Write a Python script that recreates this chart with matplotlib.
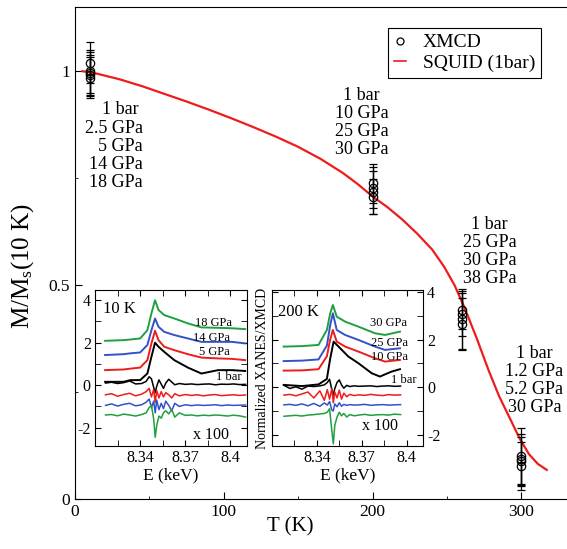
import matplotlib
matplotlib.use('Agg')
import matplotlib.pyplot as plt
from matplotlib.ticker import MultipleLocator
from matplotlib.lines import Line2D

plt.rcParams['font.family'] = 'Liberation Serif'
plt.rcParams['mathtext.fontset'] = 'custom'
plt.rcParams['mathtext.rm'] = 'Liberation Serif'
plt.rcParams['mathtext.it'] = 'Liberation Serif:italic'

# --- main panel: XMCD points and SQUID curve ---
xmcd_t   = [10, 10, 10, 10, 10, 200, 200, 200, 200, 260, 260, 260, 260, 300, 300, 300, 300]
xmcd_m   = [1.02, 1.0, 0.995, 0.99, 0.985, 0.738, 0.728, 0.717, 0.707,
            0.442, 0.432, 0.421, 0.409, 0.100, 0.094, 0.088, 0.077]
xmcd_err = [0.048, 0.05, 0.05, 0.047, 0.047, 0.046, 0.047, 0.05, 0.041,
            0.044, 0.05, 0.07, 0.061, 0.067, 0.059, 0.058, 0.056]

squid_t = [5, 15, 30, 45, 60, 75, 90, 105, 120, 135, 150, 165, 180, 190, 200,
           210, 220, 230, 240, 248, 255, 262, 270, 278, 285, 292, 299, 305, 311, 317]
squid_m = [1.0, 0.994, 0.981, 0.965, 0.947, 0.929, 0.91, 0.89, 0.869, 0.847,
           0.823, 0.795, 0.762, 0.736, 0.707, 0.682, 0.653, 0.62, 0.583, 0.543,
           0.5, 0.445, 0.375, 0.30, 0.24, 0.19, 0.14, 0.105, 0.082, 0.068]

pressure_labels = [
    (45.6, 0.825, '1 bar \n2.5 GPa\n5 GPa\n14 GPa\n18 GPa', 'right'),
    (192.6, 0.88, '1 bar\n10 GPa\n25 GPa\n30 GPa', 'center'),
    (278.5, 0.578, '1 bar\n25 GPa\n30 GPa\n38 GPa', 'center'),
    (308.7, 0.278, '1 bar\n1.2 GPa\n5.2 GPa\n30 GPa', 'center'),
]

# --- inset 1: 10 K ---
e1 = [8.3167, 8.329, 8.3335, 8.340, 8.3448, 8.3475, 8.3499, 8.3522, 8.356,
      8.3627, 8.3717, 8.3807, 8.3919, 8.4009, 8.4098]
xanes1_18 = [2.09, 2.12, 2.15, 2.2, 2.59, 3.38, 4.0, 3.54, 3.30, 3.14, 2.91, 2.72, 2.70, 2.68, 2.64]
xanes1_14 = [1.42, 1.46, 1.50, 1.54, 1.89, 2.59, 3.14, 2.75, 2.51, 2.36, 2.2, 2.04, 2.04, 2.04, 1.97]
xanes1_5  = [0.71, 0.74, 0.78, 0.83, 1.18, 1.97, 2.56, 2.12, 1.81, 1.65, 1.46, 1.30, 1.26, 1.24, 1.18]
xanes1_1b = [0.16, 0.16, 0.24, 0.24, 0.55, 1.34, 2.0, 1.81, 1.57, 1.18, 0.83, 0.55, 0.71, 0.71, 0.67]

xe1 = [8.317, 8.321, 8.325, 8.329, 8.333, 8.337, 8.341, 8.344, 8.346, 8.3475,
       8.349, 8.350, 8.351, 8.3525, 8.354, 8.3555, 8.357, 8.359, 8.361, 8.363,
       8.366, 8.370, 8.374, 8.378, 8.382, 8.386, 8.390, 8.394, 8.398, 8.402,
       8.406, 8.410]
xmcd1_1b = [0.10, 0.14, 0.08, 0.12, 0.20, 0.06, 0.08, 0.18, 0.40, 0.30, -0.10,
            -0.35, -0.05, 0.25, 0.05, -0.15, 0.10, 0.28, 0.15, 0.02, 0.08, 0.04,
            0.06, 0.03, 0.05, 0.06, 0.02, 0.05, 0.04, 0.06, 0.03, 0.04]
xmcd1_5 = [-0.45, -0.40, -0.52, -0.44, -0.38, -0.50, -0.42, -0.30, -0.15, -0.55,
           -0.20, -0.80, -0.25, -0.60, -0.30, -0.55, -0.35, -0.45, -0.60, -0.40,
           -0.50, -0.44, -0.48, -0.45, -0.50, -0.46, -0.44, -0.49, -0.47, -0.45,
           -0.48, -0.46]
xmcd1_14 = [-0.95, -0.88, -0.98, -0.90, -0.85, -0.97, -0.92, -0.80, -0.65, -1.05,
            -0.75, -1.30, -0.70, -1.15, -0.85, -1.10, -0.75, -0.95, -1.20, -0.85,
            -1.00, -0.92, -0.96, -0.93, -0.95, -0.94, -0.92, -0.96, -0.93, -0.95,
            -0.94, -0.93]
xmcd1_18 = [-1.40, -1.38, -1.44, -1.36, -1.40, -1.45, -1.38, -1.30, -1.05, -0.95,
            -1.60, -2.45, -1.90, -1.45, -1.55, -1.30, -1.20, -1.35, -1.15, -1.50,
            -1.30, -1.42, -1.40, -1.44, -1.41, -1.43, -1.40, -1.42, -1.45, -1.41,
            -1.44, -1.50]

# --- inset 2: 200 K ---
e2 = [8.3178, 8.330, 8.3411, 8.3467, 8.3489, 8.3507, 8.3533, 8.3589, 8.3678,
      8.3789, 8.3856, 8.3956]
xanes2_30 = [1.71, 1.73, 1.78, 2.41, 3.1, 3.46, 2.97, 2.76, 2.55, 2.27, 2.20, 2.34]
xanes2_25 = [1.10, 1.12, 1.17, 1.75, 2.6, 3.11, 2.41, 2.2, 1.99, 1.71, 1.57, 1.64]
xanes2_10 = [0.70, 0.71, 0.76, 1.3, 2.0, 2.41, 1.92, 1.71, 1.50, 1.22, 1.08, 1.15]
e2_1b = [8.3178, 8.330, 8.3411, 8.3467, 8.3489, 8.3512, 8.3545, 8.3611, 8.3678,
         8.3767, 8.3822, 8.3900, 8.3956]
xanes2_1b = [0.10, 0.05, 0.12, 0.35, 1.2, 1.92, 1.71, 1.29, 1.01, 0.59, 0.45, 0.66, 0.76]

xe2 = [8.318, 8.322, 8.326, 8.330, 8.334, 8.338, 8.342, 8.345, 8.347, 8.3485,
       8.350, 8.351, 8.352, 8.3535, 8.355, 8.3565, 8.358, 8.360, 8.362, 8.365,
       8.368, 8.372, 8.376, 8.380, 8.384, 8.388, 8.392, 8.396]
xmcd2_1b = [0.08, -0.05, 0.02, -0.08, 0.05, 0.03, 0.06, 0.10, 0.20, 0.34, -0.10,
            -0.33, -0.05, 0.20, 0.31, 0.10, -0.04, 0.08, 0.03, 0.06, 0.04, 0.05,
            0.06, 0.03, 0.05, 0.06, 0.04, 0.05]
xmcd2_10 = [-0.33, -0.30, -0.36, -0.28, -0.20, -0.45, -0.15, -0.55, -0.10, -0.50,
            -0.05, -0.65, -0.20, -0.45, -0.12, -0.50, -0.25, -0.40, -0.30, -0.35,
            -0.32, -0.34, -0.30, -0.33, -0.35, -0.31, -0.33, -0.32]
xmcd2_25 = [-0.74, -0.72, -0.76, -0.70, -0.78, -0.68, -0.80, -0.66, -0.75, -0.60,
            -0.95, -1.00, -0.70, -0.82, -0.65, -0.80, -0.72, -0.76, -0.73, -0.75,
            -0.74, -0.72, -0.76, -0.74, -0.73, -0.75, -0.74, -0.73]
xmcd2_30 = [-1.22, -1.20, -1.18, -1.21, -1.17, -1.15, -1.12, -1.10, -1.05, -0.90,
            -1.80, -2.38, -1.60, -1.25, -1.05, -1.20, -1.10, -1.25, -1.15, -1.20,
            -1.17, -1.14, -1.18, -1.16, -1.15, -1.17, -1.13, -1.15]

GREEN = '#1fa040'
BLUE = '#3352c8'
RED = '#ee1c1c'

fig = plt.figure(figsize=(5.67, 5.49), dpi=100)
W, H = 567, 549
ax = fig.add_axes([75 / W, 50 / H, 506 / W, 492 / H])
ax.set_xlim(0, 340)
ax.set_ylim(0, 1.15)

ax.plot(squid_t, squid_m, color=RED, lw=1.6, zorder=2)
ax.errorbar(xmcd_t, xmcd_m, yerr=xmcd_err, fmt='o', mfc='none', mec='black',
            ms=6, mew=0.9, ecolor='black', elinewidth=0.9, capsize=3,
            capthick=0.9, zorder=3)

for x, y, txt, al in pressure_labels:
    ax.text(x, y, txt, ha=al, va='center', multialignment=al, fontsize=13,
            linespacing=1.08)

ax.xaxis.set_major_locator(MultipleLocator(100))
ax.xaxis.set_minor_locator(MultipleLocator(50))
ax.yaxis.set_major_locator(MultipleLocator(0.5))
ax.yaxis.set_minor_locator(MultipleLocator(0.25))
ax.set_yticks([0, 0.5, 1])
ax.set_yticklabels(['0', '0.5', '1'])
ax.tick_params(which='both', direction='in', labelsize=12.5)
ax.tick_params(which='major', length=5)
ax.tick_params(which='minor', length=2.5)
ax.spines['right'].set_visible(False)
ax.set_xlabel('T (K)', fontsize=15)
ax.set_ylabel(r'M/M$_\mathrm{s}$(10 K)', fontsize=18)
ax.xaxis.set_label_coords(0.425, -0.038)
ax.yaxis.set_label_coords(-0.077, 0.474)

handles = [Line2D([], [], marker='o', ls='none', mfc='none', mec='black', ms=5, mew=0.9),
           Line2D([], [], color=RED, lw=1.2)]
leg = ax.legend(handles, ['XMCD', 'SQUID (1bar)'], loc='upper left',
                bbox_to_anchor=(388 / W, 1 - 28 / H), bbox_transform=fig.transFigure,
                fancybox=False, edgecolor='black', framealpha=1, borderaxespad=0,
                handlelength=0.6, handletextpad=0.9, fontsize=14, borderpad=0.3,
                labelspacing=0.15)
leg.get_frame().set_linewidth(0.8)


def style_inset(a, right_labels):
    a.set_xlim(8.31, 8.411)
    a.xaxis.set_major_locator(MultipleLocator(0.03))
    a.xaxis.set_minor_locator(MultipleLocator(0.015))
    a.yaxis.set_major_locator(MultipleLocator(2))
    a.yaxis.set_minor_locator(MultipleLocator(1))
    a.set_xticks([8.34, 8.37, 8.4])
    a.set_xticklabels(['8.34', '8.37', '8.4'])
    a.tick_params(which='both', direction='in', top=True, right=True,
                  labelsize=11.5, pad=3)
    a.tick_params(which='major', length=4)
    a.tick_params(which='minor', length=4)
    if right_labels:
        a.tick_params(axis='y', labelleft=False, labelright=True)
    a.set_xlabel('E (keV)', fontsize=12.5, labelpad=1)


ins1 = fig.add_axes([95 / W, 103 / H, 152 / W, 156 / H], zorder=5)
ins1.plot(e1, xanes1_18, color=GREEN, lw=1.4)
ins1.plot(e1, xanes1_14, color=BLUE, lw=1.4)
ins1.plot(e1, xanes1_5, color=RED, lw=1.4)
ins1.plot(e1, xanes1_1b, color='black', lw=1.4)
ins1.plot(xe1, xmcd1_1b, color='black', lw=1.1)
ins1.plot(xe1, xmcd1_5, color=RED, lw=1.1)
ins1.plot(xe1, xmcd1_14, color=BLUE, lw=1.1)
ins1.plot(xe1, xmcd1_18, color=GREEN, lw=1.1)
style_inset(ins1, False)
ins1.set_ylim(-2.86, 4.48)
ins1.set_yticks([-2, 0, 2, 4])
ins1.set_yticklabels(['-2', '0', '2', '4'])
ins1.text(0.053, 0.878, '10 K', transform=ins1.transAxes, fontsize=12, va='center')
for fx, fy, txt in [(0.78, 0.788, '18 GPa'), (0.766, 0.69, '14 GPa'),
                    (0.783, 0.60, '5 GPa'), (0.88, 0.44, '1 bar')]:
    ins1.text(fx, fy, txt, transform=ins1.transAxes, fontsize=9, ha='center', va='center')
ins1.text(0.766, 0.07, 'x 100', transform=ins1.transAxes, fontsize=11.5, ha='center', va='center')

ins2 = fig.add_axes([272 / W, 103 / H, 151 / W, 156 / H], zorder=5)
ins2.plot(e2, xanes2_30, color=GREEN, lw=1.4)
ins2.plot(e2, xanes2_25, color=BLUE, lw=1.4)
ins2.plot(e2, xanes2_10, color=RED, lw=1.4)
ins2.plot(e2_1b, xanes2_1b, color='black', lw=1.4)
ins2.plot(xe2, xmcd2_1b, color='black', lw=1.1)
ins2.plot(xe2, xmcd2_10, color=RED, lw=1.1)
ins2.plot(xe2, xmcd2_25, color=BLUE, lw=1.1)
ins2.plot(xe2, xmcd2_30, color=GREEN, lw=1.1)
style_inset(ins2, True)
ins2.set_ylim(-2.47, 4.09)
ins2.set_yticks([-2, 0, 2, 4])
ins2.set_yticklabels(['-2', '0', '2', '4'])
ins2.text(0.04, 0.861, '200 K', transform=ins2.transAxes, fontsize=12, va='center')
for fx, fy, txt in [(0.772, 0.786, '30 GPa'), (0.781, 0.662, '25 GPa'),
                    (0.781, 0.573, '10 GPa'), (0.871, 0.423, '1 bar')]:
    ins2.text(fx, fy, txt, transform=ins2.transAxes, fontsize=9, ha='center', va='center')
ins2.text(0.715, 0.13, 'x 100', transform=ins2.transAxes, fontsize=11.5, ha='center', va='center')
fig.text(262 / W, 1 - 368 / H, 'Normalized XANES/XMCD', rotation=90,
         ha='center', va='center', fontsize=10)

fig.savefig('out.png', dpi=100)
